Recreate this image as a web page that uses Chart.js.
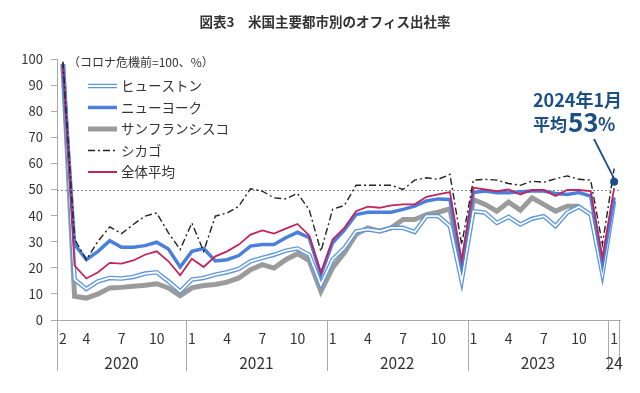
<!DOCTYPE html>
<html lang="ja">
<head>
<meta charset="utf-8">
<script src="https://cdn.jsdelivr.net/npm/chart.js@4.4.1/dist/chart.umd.min.js"></script>
<style>
  html, body { margin: 0; padding: 0; background: #fff; }
</style>
</head>
<body>
<canvas id="chart" width="640" height="393"></canvas>
<script>
// x axis: one category per month, Feb 2020 - Jan 2024
const months = [
  '2','3','4','5','6','7','8','9','10','11','12',
  '1','2','3','4','5','6','7','8','9','10','11','12',
  '1','2','3','4','5','6','7','8','9','10','11','12',
  '1','2','3','4','5','6','7','8','9','10','11','12',
  '1'
];
const shownMonths = ['1', '4', '7', '10'];
const yearLabels = ['2020', '2021', '2022', '2023', '24'];
const yearLengths = [11, 12, 12, 12, 1];

// office occupancy, pre-covid = 100
const houston = [98, 15.5, 11.9, 14.8, 16.1, 15.9, 16.5, 17.8, 18.3, 14.8, 11,
  15.5, 16.1, 17.4, 18.3, 19.6, 22.5, 23.8, 25, 26.6, 27.4, 25, 13.5,
  23.2, 27.6, 34, 34.7, 34, 35.3, 35.3, 33.7, 39.8, 39.8, 36, 15,
  41.7, 41.1, 37.2, 39.5, 36.6, 38.8, 39.8, 36, 41.1, 43.4, 40.4, 17.6,
  45.5];
const newYork = [98, 29, 23.1, 26.3, 30.4, 27.9, 27.9, 28.5, 29.8, 27.2, 20.3,
  26.3, 27.4, 22.6, 23.1, 24.7, 28.3, 28.9, 28.9, 31.5, 33.6, 31.5, 17.4,
  29.6, 34.4, 40.4, 41.3, 41.3, 41.3, 42.4, 43.6, 45.6, 46.4, 46.2, 20.6,
  48.8, 49.4, 48.8, 48.8, 49.1, 49.4, 49.4, 48.5, 48.1, 48.8, 47.5, 21.5,
  47];
const sanFrancisco = [98, 9.1, 8.4, 10, 12.3, 12.5, 12.9, 13.3, 13.9, 12.3, 9.3,
  12.3, 13.2, 13.6, 14.5, 16.1, 19.3, 21.2, 19.9, 23.1, 25.4, 22.8, 11,
  20, 25.7, 32.8, 35.3, 34, 35.3, 38.5, 38.5, 40.4, 41.3, 42.6, 20,
  46.2, 44.3, 41.7, 45.2, 42.1, 46.8, 44.3, 41.7, 43.6, 43.6, null, null,
  null];
const chicago = [99, 31, 23.1, 30.2, 35.7, 33.1, 36.6, 39.8, 41, 33.4, 27,
  37.2, 26.3, 39.8, 41, 43.6, 50.3, 49.4, 46.8, 46.4, 48.5, 42.3, 26.3,
  42.4, 43.9, 51.6, 51.6, 51.6, 51.6, 50, 53.6, 54.5, 53.9, 55.8, 28.9,
  53.6, 53.9, 53.6, 52.3, 51.6, 53.2, 52.8, 54.1, 55.2, 53.9, 53.6, 29,
  58];
const average = [98.5, 20.8, 15.9, 18.3, 21.9, 21.6, 22.8, 25, 26.3, 22.5, 17.1,
  23.5, 20.3, 24.4, 26.3, 28.9, 32.7, 34.3, 33.1, 35, 36.8, 32.4, 18,
  30.8, 35.3, 41.7, 43.4, 43, 43.9, 44.3, 44.3, 47.2, 48.1, 49, 22.5,
  50.7, 50, 49.4, 50, 48.1, 49.8, 49.8, 47.5, 49.8, 49.8, 49.4, 23.8,
  50.5];

const refLine = 50;
const markIndex = 47;
const markValue = 53;

const FONT = '"Noto Sans CJK JP", "Noto Sans", sans-serif';
const TEXT = '#333';
const AXIS = '#aaa';
const NAVY = '#1c4f86';

const C_HOU = '#5f97dc', C_NY = '#4a80dc', C_SF = '#9b9b9b', C_CHI = '#222', C_AVG = '#c2245c';

Chart.defaults.font.family = FONT;
Chart.defaults.color = TEXT;

// legend entries, drawn by the plugin
const legendItems = [
  { text: 'ヒューストン', draw: (ctx, x1, x2, y) => {
      seg(ctx, x1, x2, y, C_HOU, 4.5); seg(ctx, x1, x2, y, '#fff', 2); } },
  { text: 'ニューヨーク', draw: (ctx, x1, x2, y) => seg(ctx, x1, x2, y, C_NY, 3.5) },
  { text: 'サンフランシスコ', draw: (ctx, x1, x2, y) => seg(ctx, x1, x2, y, C_SF, 5) },
  { text: 'シカゴ', draw: (ctx, x1, x2, y) => seg(ctx, x1, x2, y, C_CHI, 1.4, [7, 3, 2, 3]) },
  { text: '全体平均', draw: (ctx, x1, x2, y) => seg(ctx, x1, x2, y, C_AVG, 2) }
];

function seg(ctx, x1, x2, y, color, w, dash) {
  ctx.save();
  ctx.strokeStyle = color;
  ctx.lineWidth = w;
  ctx.setLineDash(dash || []);
  ctx.beginPath();
  ctx.moveTo(x1, y);
  ctx.lineTo(x2, y);
  ctx.stroke();
  ctx.restore();
}

const decor = {
  id: 'decor',
  beforeDatasetsDraw(chart) {
    const { ctx, chartArea: a, scales: { y } } = chart;
    const py = Math.round(y.getPixelForValue(refLine)) + 0.5;
    seg(ctx, a.left, a.right, py, '#888', 1, [2, 2]);
  },
  afterDraw(chart) {
    const { ctx, chartArea: a, scales: { x, y } } = chart;

    // title
    ctx.save();
    ctx.fillStyle = TEXT;
    ctx.textBaseline = 'middle';
    ctx.textAlign = 'center';
    ctx.font = 'bold 13.5px ' + FONT;
    ctx.fillText('図表3　米国主要都市別のオフィス出社率', 325, 22);

    // unit note
    ctx.textAlign = 'left';
    ctx.font = '12px ' + FONT;
    ctx.fillText('（コロナ危機前=100、%）', 68, 62);

    // legend
    ctx.font = '13.5px ' + FONT;
    legendItems.forEach((it, i) => {
      const ly = 86 + i * 21.5;
      it.draw(ctx, 88, 117, ly);
      ctx.fillStyle = TEXT;
      ctx.fillText(it.text, 121, ly);
    });

    // year groups under the month ticks
    const half = (x.getPixelForValue(1) - x.getPixelForValue(0)) / 2;
    let start = 0;
    ctx.font = '15.5px ' + FONT;
    ctx.textAlign = 'center';
    ctx.strokeStyle = AXIS;
    ctx.lineWidth = 1;
    yearLabels.forEach((lab, i) => {
      const left = x.getPixelForValue(start) - half;
      const right = x.getPixelForValue(start + yearLengths[i] - 1) + half;
      ctx.beginPath();
      ctx.moveTo(Math.round(left) + 0.5, a.bottom);
      ctx.lineTo(Math.round(left) + 0.5, a.bottom + 51);
      ctx.stroke();
      if (i === yearLabels.length - 1) {
        ctx.beginPath();
        ctx.moveTo(Math.round(right) - 0.5, a.bottom);
        ctx.lineTo(Math.round(right) - 0.5, a.bottom + 51);
        ctx.stroke();
      }
      ctx.fillStyle = TEXT;
      ctx.fillText(lab, (left + right) / 2, a.bottom + 43);
      start += yearLengths[i];
    });

    // callout for the latest average
    const mx = x.getPixelForValue(markIndex);
    const my = y.getPixelForValue(markValue);
    ctx.fillStyle = NAVY;
    ctx.textAlign = 'left';
    ctx.textBaseline = 'alphabetic';
    ctx.font = 'bold 18px ' + FONT;
    ctx.fillText('2024年1月', 533, 107);
    ctx.font = 'bold 17px ' + FONT;
    ctx.fillText('平均', 533, 131);
    ctx.font = 'bold 26px ' + FONT;
    ctx.fillText('53', 568, 132);
    ctx.font = 'bold 18px ' + FONT;
    ctx.fillText('%', 598, 131);
    ctx.strokeStyle = NAVY;
    ctx.lineWidth = 1.8;
    ctx.beginPath();
    ctx.moveTo(594, 139);
    ctx.lineTo(mx, my - 3);
    ctx.stroke();
    ctx.restore();
  }
};

function line(data, color, width, order, extra) {
  return Object.assign({
    data: data,
    borderColor: color,
    backgroundColor: color,
    borderWidth: width,
    pointRadius: 0,
    tension: 0,
    spanGaps: false,
    order: order
  }, extra || {});
}

// single dot at the latest month
const markSeries = months.map((m, i) => i === markIndex ? markValue : null);

new Chart(document.getElementById('chart'), {
  type: 'line',
  data: {
    labels: months,
    datasets: [
      line(sanFrancisco, C_SF, 5, 6),
      line(houston, C_HOU, 4.5, 5),
      line(houston, '#fff', 1.8, 4),
      line(newYork, C_NY, 3.5, 3),
      line(average, C_AVG, 1.8, 2),
      line(chicago, C_CHI, 1.4, 1, { borderDash: [7, 3, 2, 3] }),
      line(markSeries, NAVY, 0, 0, { showLine: false, pointRadius: 4, pointBorderWidth: 0 })
    ]
  },
  options: {
    responsive: false,
    animation: false,
    devicePixelRatio: 1,
    layout: { padding: { top: 59, right: 20, left: 0, bottom: 0 } },
    plugins: {
      legend: { display: false },
      tooltip: { enabled: false }
    },
    scales: {
      x: {
        type: 'category',
        offset: true,
        afterFit: s => { s.height = 73; },
        grid: { display: false, drawTicks: false },
        border: { display: true, color: AXIS },
        ticks: {
          autoSkip: false,
          maxRotation: 0,
          padding: 10,
          font: { size: 14 },
          color: TEXT,
          callback: (v, i) => (i === 0 || shownMonths.includes(months[i])) ? months[i] : ''
        }
      },
      y: {
        min: 0,
        max: 100,
        afterFit: s => { s.width = 57; },
        grid: { drawOnChartArea: false, color: AXIS, tickLength: 6 },
        border: { display: true, color: AXIS },
        ticks: { stepSize: 10, padding: 8, font: { size: 13 }, color: TEXT }
      }
    }
  },
  plugins: [decor]
});
</script>
</body>
</html>
